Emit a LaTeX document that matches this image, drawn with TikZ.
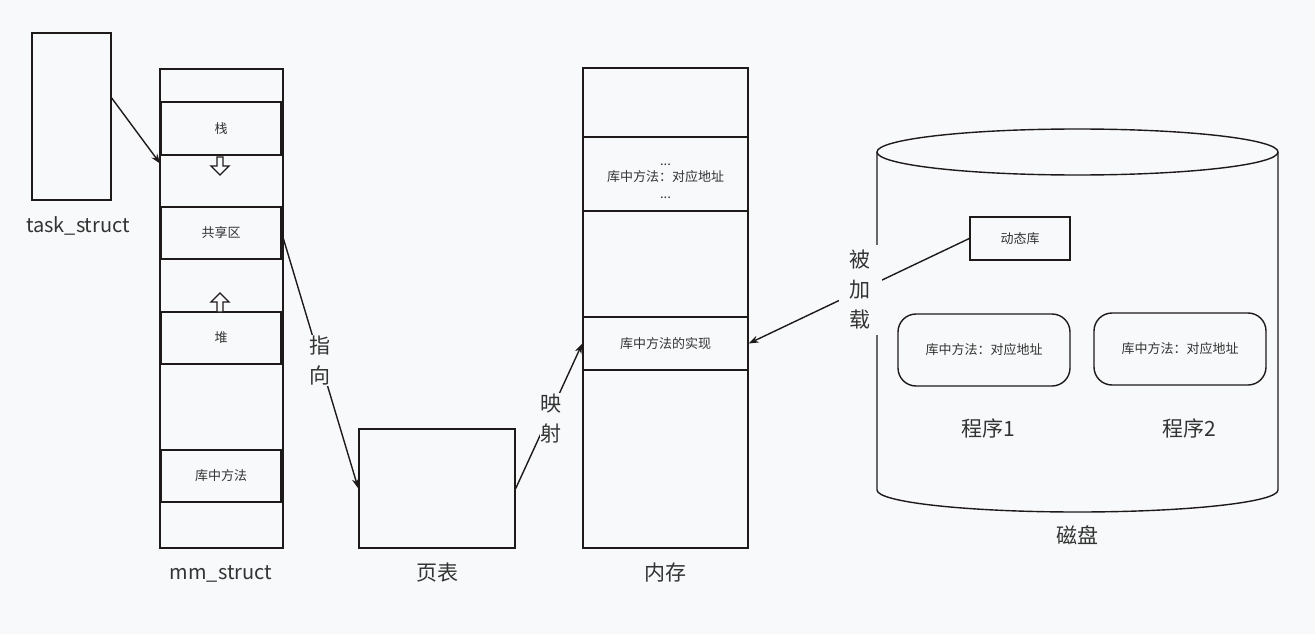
\documentclass[tikz,border=0pt]{standalone}
\usepackage{fontspec}
\setmainfont{Noto Sans CJK SC}
\usetikzlibrary{arrows.meta}
\definecolor{bg}{HTML}{F8F9FA}
\definecolor{ink}{HTML}{1E1A1A}
\definecolor{txt}{HTML}{333333}
\tikzset{
  box/.style={draw=ink, line width=1.4pt, inner sep=0pt, text=txt, font=\fontsize{13}{16}\selectfont, align=center},
  rbox/.style={box, rounded corners=18pt},
  lbl/.style={text=txt, font=\fontsize{21}{30}\selectfont, inner sep=1pt, align=center},
  conn/.style={draw=ink, line width=1.4pt, -{Stealth[length=10pt,width=7pt]}},
  hollow/.style={draw=ink, line width=1.4pt, fill=bg, line join=miter},
}
\begin{document}
\begin{tikzpicture}[x=1pt,y=-1pt]
\fill[bg] (0,0) rectangle (1315,634);
\useasboundingbox (0,0) rectangle (1315,634);

% task_struct
\node[box, minimum width=79pt, minimum height=167pt] (ts) at (71.5,116.5) {};
\node[lbl, font=\fontsize{20}{24}\selectfont] (tsl) at (78,226) {task\_struct};

% mm_struct
\node[box, minimum width=123pt, minimum height=479pt] (mm) at (221.5,308.5) {};
\node[box, minimum width=120pt, minimum height=53pt] (stack) at (221,128.5) {栈};
\node[box, minimum width=120pt, minimum height=52pt] (share) at (221,233) {共享区};
\node[box, minimum width=120pt, minimum height=52pt] (heap) at (221,338) {堆};
\node[box, minimum width=120pt, minimum height=52pt] (libm) at (221,476) {库中方法};
\node[lbl, font=\fontsize{20}{24}\selectfont] (mml) at (221,574) {mm\_struct};
\draw[hollow] (217,157) -- (223,157) -- (223,166) -- (229,166) -- (220,175) -- (211,166) -- (217,166) -- cycle;
\draw[hollow] (217,312) -- (223,312) -- (223,302) -- (229,302) -- (220,293) -- (211,302) -- (217,302) -- cycle;

% page table
\node[box, minimum width=156pt, minimum height=119pt] (pt) at (437,488.5) {};
\node[lbl] (ptl) at (437,573) {页表};

% memory
\node[box, minimum width=165pt, minimum height=480pt] (mem) at (665.5,308) {};
\node[box, minimum width=165pt, minimum height=74pt] (memtab) at (665.5,174) {};
\node[box, draw=none, font=\fontsize{13}{16.5}\selectfont] (memtabt) at (665.5,181) {...\\库中方法：对应地址\\...};
\node[box, minimum width=165pt, minimum height=53pt] (memimpl) at (665.5,343.5) {库中方法的实现};
\node[lbl] (meml) at (665,573) {内存};

% disk cylinder
\draw[draw=ink, line width=1.4pt] (1077.5,152) ellipse [x radius=200.5, y radius=23];
\draw[draw=ink, line width=1.4pt] (877,152) -- (877,490)
  .. controls (877,502.15) and (966.8,512) .. (1077.5,512)
  .. controls (1188.2,512) and (1278,502.15) .. (1278,490) -- (1278,152);
\node[lbl] (diskl) at (1077,535) {磁盘};
\node[box, minimum width=100pt, minimum height=43pt] (dyn) at (1020,238.5) {动态库};
\node[rbox, minimum width=172pt, minimum height=72pt] (p1) at (984,350) {库中方法：对应地址};
\node[rbox, minimum width=172pt, minimum height=72pt] (p2) at (1180,349) {库中方法：对应地址};
\node[lbl] (p1l) at (988,428) {程序1};
\node[lbl] (p2l) at (1189,428) {程序2};

% connectors
\coordinate (c1s) at ([yshift=18.5pt]ts.east);
\coordinate (c1e) at ([yshift=-8pt]stack.south west);
\draw[conn] (c1s) -- (c1e);
\draw[conn] (share.east) -- node[lbl, fill=bg, midway] {指\\向} (pt.west);
\draw[conn] (pt.east) -- node[lbl, fill=bg, midway, xshift=2pt, yshift=-3pt] {映\\射} (memimpl.west);
\draw[conn] (dyn.west) -- node[lbl, fill=bg, midway, inner xsep=11pt, inner ysep=5pt, xshift=1pt, yshift=1pt] {被\\加\\载} (memimpl.east);
\end{tikzpicture}
\end{document}
